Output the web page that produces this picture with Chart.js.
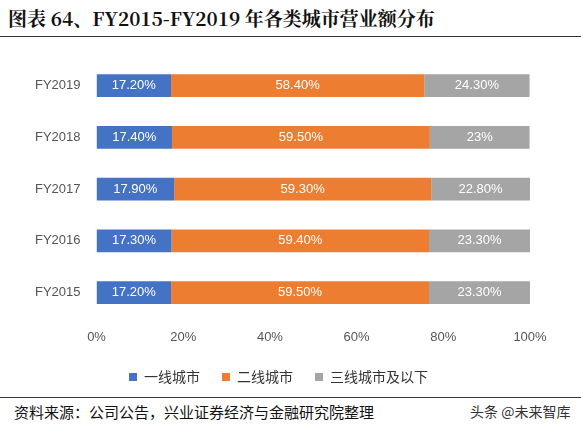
<!DOCTYPE html>
<html><head><meta charset="utf-8">
<script src="https://cdn.jsdelivr.net/npm/chart.js@4"></script>
<style>
body{margin:0;width:581px;height:432px;background:#fff;font-family:"Noto Sans CJK SC";position:relative;overflow:hidden}
#t{position:absolute;left:8px;top:4px;font-size:19px;font-weight:bold;color:#111;font-family:"Noto Serif CJK SC","Noto Sans CJK SC";}
#l1{position:absolute;left:0;top:36px;width:581px;border-top:1.5px solid #333}
#l2{position:absolute;left:0;top:397px;width:581px;border-top:1px solid #333}
#s{position:absolute;left:14px;top:401px;font-size:15px;color:#111}
#w{position:absolute;left:470px;top:401px;font-size:14px;color:#333}
#c{position:absolute;left:0;top:44px}
</style></head><body>
<div id="t">图表 64、FY2015-FY2019 年各类城市营业额分布</div>
<div id="l1"></div>
<canvas id="c" width="581" height="350"></canvas>
<div id="l2"></div>
<div id="s">资料来源：公司公告，兴业证券经济与金融研究院整理</div>
<div id="w">头条 @未来智库</div>
<script>
const categories=["FY2019","FY2018","FY2017","FY2016","FY2015"];
const tier1=[17.2,17.4,17.9,17.3,17.2];
const tier2=[58.4,59.5,59.3,59.4,59.5];
const tier3=[24.3,23,22.8,23.3,23.3];
const seriesNames=["一线城市","二线城市","三线城市及以下"];
const labelPlugin={id:'lbl',afterDatasetsDraw(ch){const ctx=ch.ctx;ctx.save();ctx.fillStyle='#fff';ctx.font='13px "Liberation Sans"';ctx.textAlign='center';ctx.textBaseline='middle';
ch.data.datasets.forEach((ds,i)=>{ch.getDatasetMeta(i).data.forEach((b,j)=>{const v=ds.data[j];ctx.fillText((Number.isInteger(v)?v:v.toFixed(2))+'%',(b.x+b.base)/2,b.y);});});ctx.restore();}};
new Chart(document.getElementById('c'),{type:'bar',
data:{labels:categories,datasets:[
{label:seriesNames[0],data:tier1,backgroundColor:'#4472C4'},
{label:seriesNames[1],data:tier2,backgroundColor:'#ED7D31'},
{label:seriesNames[2],data:tier3,backgroundColor:'#A5A5A5'}]},
options:{indexAxis:'y',responsive:false,animation:false,
layout:{padding:{left:27,right:51,top:6}},
scales:{x:{stacked:true,min:0,max:100,ticks:{stepSize:20,callback:v=>v+'%',color:'#555',font:{size:13,family:'Liberation Sans'}},grid:{display:false},border:{display:false}},
y:{stacked:true,ticks:{color:'#555',font:{size:13,family:'Liberation Sans'},padding:8},grid:{display:false},border:{display:false}}},
datasets:{bar:{categoryPercentage:0.8,barPercentage:0.55}},
plugins:{legend:{position:'bottom',labels:{boxWidth:8,boxHeight:8,color:'#333',font:{size:14,family:'Noto Sans CJK SC'},padding:22}},tooltip:{enabled:false}}},
plugins:[labelPlugin]});
</script></body></html>
